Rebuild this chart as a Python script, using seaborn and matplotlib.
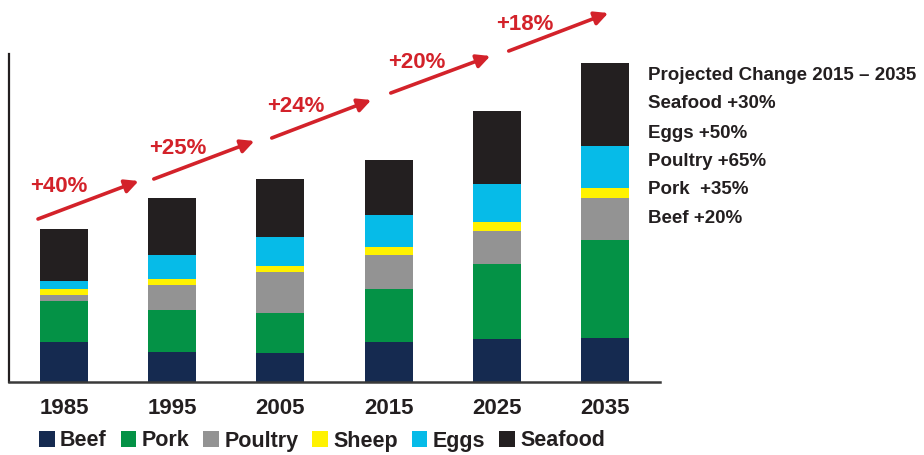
import matplotlib
matplotlib.use("Agg")
import matplotlib.pyplot as plt
from matplotlib import font_manager
from matplotlib.patches import Patch
import seaborn as sns
import pandas as pd

# ---------------- data ----------------
years = ["1985", "1995", "2005", "2015", "2025", "2035"]
categories = ["Beef", "Pork", "Poultry", "Sheep", "Eggs", "Seafood"]
beef = [40, 30, 29, 40, 43, 44]
pork = [41, 42, 40, 53, 75, 98]
poultry = [6, 25, 41, 34, 33, 42]
sheep = [6, 6, 6, 8, 9, 10]
eggs = [8, 24, 29, 32, 38, 42]
seafood = [52, 57, 58, 55, 73, 83]
growth_labels = ["+40%", "+25%", "+24%", "+20%", "+18%"]
projection_title = "Projected Change 2015 \u2013 2035"
projection_lines = ["Seafood +30%", "Eggs +50%", "Poultry +65%", "Pork  +35%", "Beef +20%"]

colors = {
    "Beef": "#152a50",
    "Pork": "#049246",
    "Poultry": "#939393",
    "Sheep": "#fff200",
    "Eggs": "#06bbe8",
    "Seafood": "#231f20",
}
red = "#d3222a"
dark = "#231f20"

# ---------------- font ----------------
names = {f.name for f in font_manager.fontManager.ttflist}
family = "DejaVu Sans"
for cand in ["Liberation Sans", "Arial", "Roboto"]:
    if cand in names:
        family = cand
        break

sns.set_theme(style="white")
plt.rcParams["font.family"] = [family, "DejaVu Sans"]
plt.rcParams["font.weight"] = "bold"

df = pd.DataFrame({"year": years, "Beef": beef, "Pork": pork, "Poultry": poultry,
                   "Sheep": sheep, "Eggs": eggs, "Seafood": seafood})
cum = df[categories].cumsum(axis=1)
cum["year"] = df["year"]

fig = plt.figure(figsize=(9.24, 4.55), dpi=100)
ax = fig.add_axes([9 / 924, 73 / 455, 651 / 924, 328 / 455])

# draw from top layer downward (overlapping cumulative bars = stacked)
for cat in categories[::-1]:
    sns.barplot(data=cum, x="year", y=cat, color=colors[cat], saturation=1,
                width=0.444, ax=ax, order=years, edgecolor="none", linewidth=0)

ax.set_xlim(-0.508, 5.508)
ax.set_ylim(0, 328)
ax.set_xlabel("")
ax.set_ylabel("")
ax.set_yticks([])
ax.tick_params(axis="x", length=0, pad=11.5, labelsize=16, colors=dark)
for lab in ax.get_xticklabels():
    lab.set_fontweight("bold")
for s in ["top", "right"]:
    ax.spines[s].set_visible(False)
ax.spines["left"].set_color(dark)
ax.spines["left"].set_linewidth(1.6)
ax.spines["bottom"].set_color("#3a3a3a")
ax.spines["bottom"].set_linewidth(1.8)

# ---------------- growth arrows ----------------
arrow_start = [(-0.24, 163), (0.83, 203), (1.92, 244), (3.02, 289), (4.11, 331)]
arrow_end = [(0.69, 201), (1.76, 241), (2.84, 282), (3.94, 326), (5.03, 369)]
label_pos = [(-0.05, 195), (1.05, 233), (2.14, 275), (3.26, 319), (4.26, 357)]
for (s, e, lp, txt) in zip(arrow_start, arrow_end, label_pos, growth_labels):
    ax.annotate("", xy=e, xytext=s, annotation_clip=False,
                arrowprops=dict(arrowstyle="-|>", color=red, lw=2.6,
                                mutation_scale=20, shrinkA=0, shrinkB=0))
    ax.text(lp[0], lp[1], txt, color=red, fontsize=16, fontweight="bold",
            ha="center", va="center", clip_on=False)

# ---------------- projected change text ----------------
ys = [76, 104, 133, 161, 189, 218]
for y, txt in zip(ys, [projection_title] + projection_lines):
    fig.text(648 / 924, 1 - y / 455, txt, color=dark, fontsize=13.5, fontweight="bold",
             ha="left", va="center")

# ---------------- legend ----------------
handles = [Patch(facecolor=colors[c], edgecolor="none", label=c) for c in categories]
leg = fig.legend(handles=handles, loc="center", bbox_to_anchor=(322 / 924, 1 - 441 / 455),
                 ncol=6, frameon=False, fontsize=15.5, handlelength=0.72, handleheight=0.72,
                 handletextpad=0.25, columnspacing=0.65, borderaxespad=0)
for t in leg.get_texts():
    t.set_fontweight("bold")
    t.set_color(dark)

fig.savefig("out.png", dpi=100)
